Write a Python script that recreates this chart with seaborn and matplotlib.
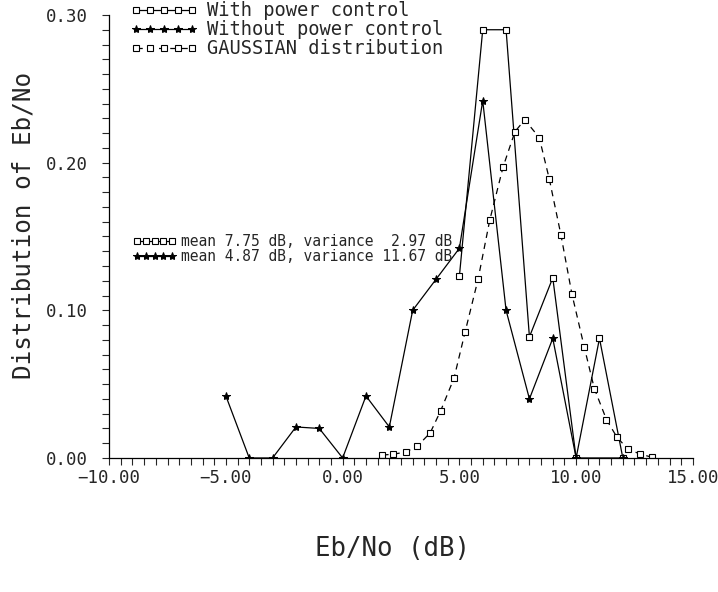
import matplotlib
matplotlib.use("Agg")
import matplotlib.pyplot as plt
from matplotlib.ticker import MultipleLocator, FuncFormatter
import seaborn as sns

# Eb/No histogram, with power control
pc_x = [5, 6, 7, 8, 9, 10, 11, 12]
pc_y = [0.123, 0.290, 0.290, 0.082, 0.122, 0.0, 0.081, 0.0]

# without power control
npc_x = [-5, -4, -3, -2, -1, 0, 1, 2, 3, 4, 5, 6, 7, 8, 9, 10, 12]
npc_y = [0.042, 0.0, 0.0, 0.021, 0.020, 0.0, 0.042, 0.021, 0.100,
         0.121, 0.142, 0.242, 0.100, 0.040, 0.081, 0.0, 0.0]

# gaussian fit
gauss_x = [1.70, 2.15, 2.70, 3.20, 3.75, 4.20, 4.77, 5.24, 5.80, 6.30, 6.87, 7.38,
           7.80, 8.42, 8.85, 9.35, 9.82, 10.35, 10.78, 11.30, 11.75, 12.22, 12.75, 13.25]
gauss_y = [0.002, 0.0025, 0.004, 0.008, 0.017, 0.032, 0.054, 0.085, 0.121, 0.161, 0.197, 0.221,
           0.229, 0.217, 0.189, 0.151, 0.111, 0.075, 0.047, 0.026, 0.014, 0.006, 0.0026, 0.0005]

legend_labels = ["With power control", "Without power control", "GAUSSIAN distribution"]
stats_labels = ["mean 7.75 dB, variance  2.97 dB", "mean 4.87 dB, variance 11.67 dB"]

sns.set_style("ticks")
plt.rcParams['font.family'] = ['DejaVu Sans Mono', 'DejaVu Sans']

fig = plt.figure(figsize=(7.18, 5.92), dpi=100)
ax = fig.add_axes([0.152, 0.2264, 0.813, 0.7483])

sq = dict(marker='s', ms=4, mfc='white', mec='black', mew=0.8)
sns.lineplot(x=pc_x, y=pc_y, ax=ax, color='black', lw=0.9, label=legend_labels[0], **sq)
sns.lineplot(x=npc_x, y=npc_y, ax=ax, color='black', lw=0.9, marker='*', ms=6,
             mfc='black', mec='black', label=legend_labels[1])
sns.lineplot(x=gauss_x, y=gauss_y, ax=ax, color='black', lw=0.9, linestyle=(0, (5, 4)),
             label=legend_labels[2], **sq)

handles = ax.get_lines()[:3]

leg1 = ax.legend(handles, legend_labels, loc='upper left', bbox_to_anchor=(0.181, 0.998),
                 bbox_transform=fig.transFigure, frameon=False, fontsize=13.5, numpoints=5,
                 handlelength=3.6, handletextpad=0.5, labelspacing=0.0, borderpad=0,
                 borderaxespad=0)
ax.add_artist(leg1)
ax.legend(handles[:2], stats_labels, loc='upper left', bbox_to_anchor=(0.185, 0.604),
          bbox_transform=fig.transFigure, frameon=False, fontsize=10.5, numpoints=5,
          handlelength=3.0, handletextpad=0.3, labelspacing=0.0, borderpad=0,
          borderaxespad=0)

ax.set_xlim(-10, 15)
ax.set_ylim(0, 0.30)
ax.xaxis.set_major_locator(MultipleLocator(5))
ax.xaxis.set_minor_locator(MultipleLocator(0.5))
ax.yaxis.set_major_locator(MultipleLocator(0.1))
ax.yaxis.set_minor_locator(MultipleLocator(0.01))
fmt = FuncFormatter(lambda v, p: ("%.2f" % v).replace("-", "\u2212"))
ax.xaxis.set_major_formatter(fmt)
ax.yaxis.set_major_formatter(fmt)

ax.tick_params(axis='x', which='both', direction='out', length=5, width=0.8, pad=3, labelsize=12.5)
ax.tick_params(axis='y', which='both', direction='out', length=5, width=0.8, pad=10, labelsize=12.5)
sns.despine(ax=ax)
for s in ['left', 'bottom']:
    ax.spines[s].set_linewidth(0.9)
    ax.spines[s].set_color('black')

ax.set_xlabel("Eb/No (dB)", fontsize=18.5)
ax.set_ylabel("Distribution of Eb/No", fontsize=17.5)
ax.xaxis.set_label_coords(0.485, -0.176)
ax.yaxis.set_label_coords(-0.127, 0.526)

fig.savefig("out.png", dpi=100)
